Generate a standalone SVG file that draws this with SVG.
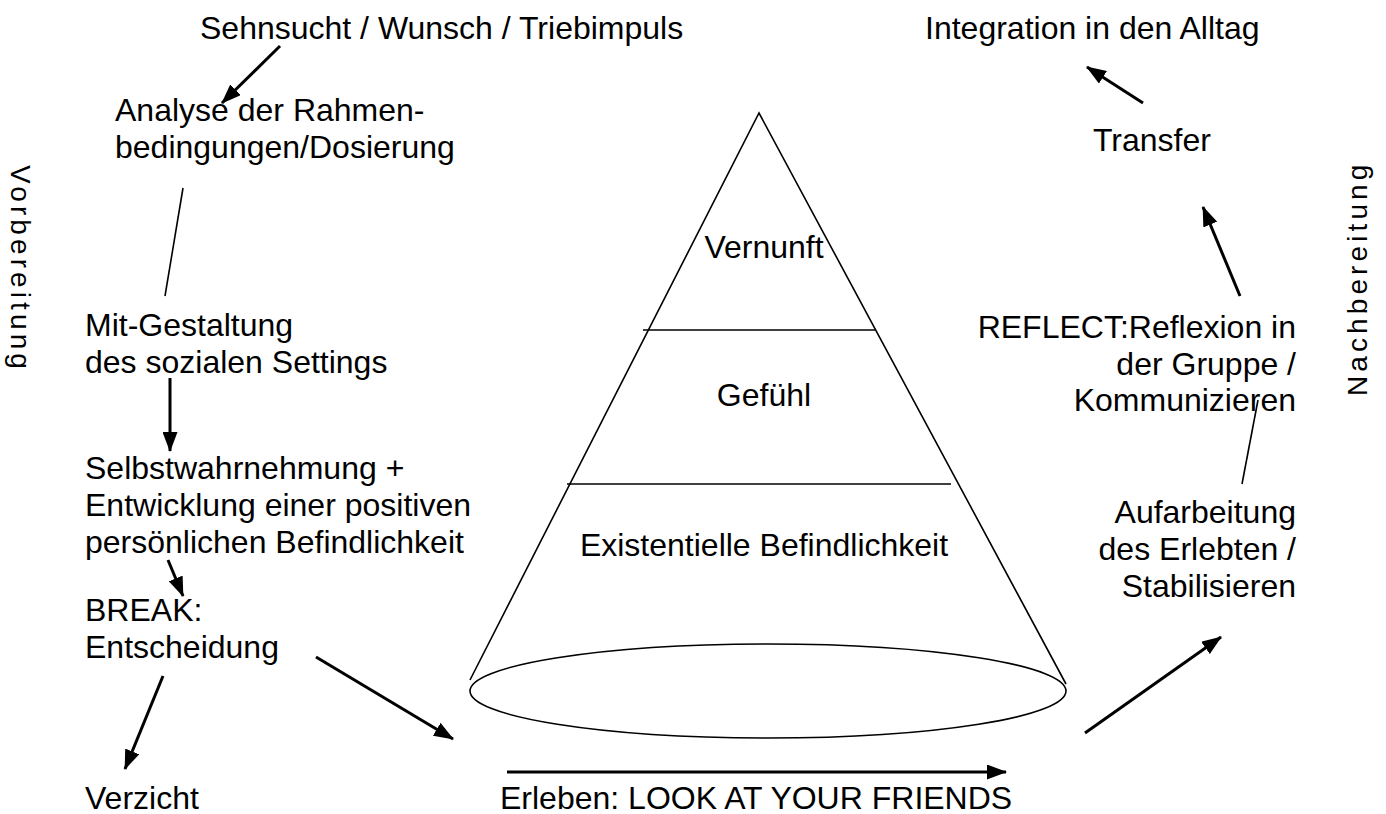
<svg xmlns="http://www.w3.org/2000/svg" width="1386" height="814" viewBox="0 0 1386 814">
<defs>
<style>
text{font-family:"Liberation Sans",Arial,sans-serif;font-size:32px;fill:#000}
.v{font-size:28px;letter-spacing:4.1px}
.e{text-anchor:end}
.m{text-anchor:middle}
.arr{stroke:#000;stroke-width:3;fill:none;marker-end:url(#ah)}
.ln{stroke:#000;stroke-width:1.6;fill:none}
</style>
<marker id="ah" markerUnits="userSpaceOnUse" markerWidth="20" markerHeight="15" refX="19" refY="7.5" orient="auto">
<path d="M0,0 L20,7.5 L0,15 z" fill="#000"/>
</marker>
</defs>
<rect width="1386" height="814" fill="#fff"/>
<g id="cone">
<path class="ln" d="M470,680 L759,113 L1066,684"/>
<line class="ln" x1="643" y1="330" x2="875" y2="330"/>
<line class="ln" x1="567" y1="484" x2="951" y2="484"/>
<ellipse class="ln" cx="768" cy="691" rx="298" ry="47"/>
<text class="m" x="764" y="258">Vernunft</text>
<text class="m" x="764" y="406">Gefühl</text>
<text class="m" x="764" y="556">Existentielle Befindlichkeit</text>
</g>
<g id="sehnsucht"><text x="200" y="39">Sehnsucht / Wunsch / Triebimpuls</text></g>
<g id="analyse"><text x="115" y="121">Analyse der Rahmen-</text><text x="115" y="158">bedingungen/Dosierung</text></g>
<g id="mitgestaltung"><text x="85" y="336">Mit-Gestaltung</text><text x="85" y="373">des sozialen Settings</text></g>
<g id="selbst"><text x="85" y="479">Selbstwahrnehmung +</text><text x="85" y="516">Entwicklung einer positiven</text><text x="85" y="553">persönlichen Befindlichkeit</text></g>
<g id="break"><text x="85" y="621">BREAK:</text><text x="85" y="658">Entscheidung</text></g>
<g id="verzicht"><text x="85" y="809">Verzicht</text></g>
<g id="erleben"><text x="500" y="809">Erleben: LOOK AT YOUR FRIENDS</text></g>
<g id="aufarbeitung"><text class="e" x="1296" y="523">Aufarbeitung</text><text class="e" x="1296" y="560">des Erlebten /</text><text class="e" x="1296" y="597">Stabilisieren</text></g>
<g id="reflect"><text class="e" x="1296" y="338">REFLECT:Reflexion in</text><text class="e" x="1296" y="375">der Gruppe /</text><text class="e" x="1296" y="411">Kommunizieren</text></g>
<g id="transfer"><text x="1093" y="151">Transfer</text></g>
<g id="integration"><text x="925" y="39">Integration in den Alltag</text></g>
<g id="vorbereitung"><text class="v" transform="translate(11,165) rotate(90)">Vorbereitung</text></g>
<g id="nachbereitung"><text class="v" transform="translate(1367,396) rotate(-90)">Nachbereitung</text></g>
<g id="connectors">
<line class="arr" x1="280" y1="46" x2="222" y2="103"/>
<line class="ln" x1="183" y1="188" x2="165" y2="296"/>
<line class="arr" x1="170" y1="378" x2="170" y2="451"/>
<line class="arr" x1="168" y1="560" x2="183" y2="596"/>
<line class="arr" x1="163" y1="676" x2="125" y2="769"/>
<line class="arr" x1="316" y1="657" x2="453" y2="739"/>
<line class="arr" x1="507" y1="772" x2="1006" y2="772"/>
<line class="arr" x1="1085" y1="733" x2="1221" y2="637"/>
<line class="ln" x1="1258" y1="400" x2="1242" y2="484"/>
<line class="arr" x1="1240" y1="296" x2="1203" y2="207"/>
<line class="arr" x1="1143" y1="103" x2="1087" y2="67"/>
</g>
</svg>
